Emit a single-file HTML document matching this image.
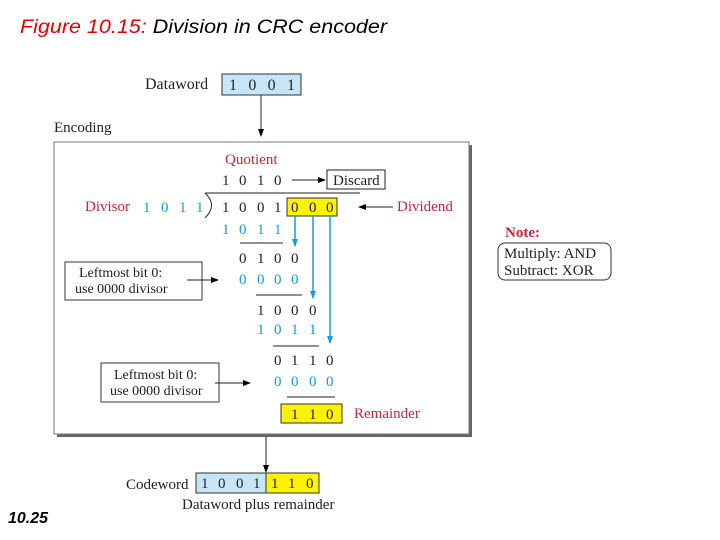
<!DOCTYPE html>
<html><head><meta charset="utf-8"><style>
html,body{margin:0;padding:0;background:#fff;width:720px;height:540px;overflow:hidden}
svg text{font-family:"Liberation Serif",serif;font-size:15px}
</style></head><body>
<svg width="720" height="540" viewBox="0 0 720 540" xmlns="http://www.w3.org/2000/svg">
<defs>
<marker id="ak" markerWidth="8" markerHeight="8" refX="7" refY="4" orient="auto" markerUnits="userSpaceOnUse"><path d="M0,1 L8,4 L0,7 Z" fill="#000"/></marker>
<marker id="ab" markerWidth="8" markerHeight="8" refX="7" refY="4" orient="auto" markerUnits="userSpaceOnUse"><path d="M0,1 L8,4 L0,7 Z" fill="#1a9ad6"/></marker>
</defs>
<text x="20" y="33" style="font-family:'Liberation Sans',sans-serif;font-size:19px;font-style:italic" textLength="367" lengthAdjust="spacingAndGlyphs"><tspan fill="#e00000">Figure 10.15:</tspan>  <tspan fill="#000">Division in CRC encoder</tspan></text>

<text x="145" y="89" fill="#222" style="font-size:16px">Dataword</text>
<rect x="222" y="74" width="79" height="21" fill="#c6e6f8" stroke="#333"/>
<text x="229" y="90" fill="#222" textLength="66" style="font-size:16px">1  0  0  1</text>
<line x1="261" y1="95" x2="261" y2="136" stroke="#222" marker-end="url(#ak)"/>
<text x="54" y="132" fill="#222">Encoding</text>

<rect x="57" y="145" width="415" height="292" fill="#666"/>
<rect x="54" y="142" width="415" height="292" fill="#fff" stroke="#777"/>

<text x="225" y="164" fill="#c0283c">Quotient</text>
<g fill="#222"><text x="222" y="185">1</text><text x="239" y="185">0</text><text x="257" y="185">1</text><text x="274" y="185">0</text></g>
<line x1="292" y1="180" x2="325" y2="180" stroke="#222" marker-end="url(#ak)"/>
<rect x="327" y="170" width="58" height="19" fill="#fff" stroke="#222"/>
<text x="333" y="185" fill="#222">Discard</text>

<line x1="205" y1="193" x2="360" y2="193" stroke="#222"/>
<path d="M205,193 Q218,205 205,218" fill="none" stroke="#222"/>
<text x="85" y="211" fill="#c0283c">Divisor</text>
<g fill="#1a9ad6"><text x="143" y="212">1</text><text x="161" y="212">0</text><text x="179" y="212">1</text><text x="196" y="212">1</text></g>
<rect x="287" y="198" width="50" height="18" fill="#fff200" stroke="#333"/>
<g fill="#222"><text x="222" y="212">1</text><text x="239" y="212">0</text><text x="257" y="212">0</text><text x="274" y="212">1</text>
<text x="291" y="212">0</text><text x="309" y="212">0</text><text x="326" y="212">0</text></g>
<line x1="393" y1="207" x2="359" y2="207" stroke="#222" marker-end="url(#ak)"/>
<text x="397" y="211" fill="#c0283c">Dividend</text>

<g fill="#1a9ad6"><text x="222" y="234">1</text><text x="239" y="234">0</text><text x="257" y="234">1</text><text x="274" y="234">1</text></g>
<line x1="240" y1="243" x2="283" y2="243" stroke="#222"/>
<g stroke="#1a9ad6" stroke-width="1.5">
<line x1="295" y1="216" x2="295" y2="246" marker-end="url(#ab)"/>
<line x1="313" y1="216" x2="313" y2="298" marker-end="url(#ab)"/>
<line x1="330" y1="216" x2="330" y2="343" marker-end="url(#ab)"/>
</g>
<g fill="#222"><text x="239" y="263">0</text><text x="257" y="263">1</text><text x="274" y="263">0</text><text x="291" y="263">0</text></g>
<g fill="#1a9ad6"><text x="239" y="284">0</text><text x="257" y="284">0</text><text x="274" y="284">0</text><text x="291" y="284">0</text></g>
<rect x="65" y="262" width="137" height="38" fill="#fff" stroke="#333"/>
<text x="79" y="277" fill="#222" style="font-size:14px">Leftmost bit 0:</text>
<text x="75" y="293" fill="#222" style="font-size:14px">use 0000 divisor</text>
<line x1="187" y1="280" x2="218" y2="280" stroke="#222" marker-end="url(#ak)"/>
<line x1="256" y1="295" x2="302" y2="295" stroke="#222"/>

<g fill="#222"><text x="257" y="315">1</text><text x="274" y="315">0</text><text x="291" y="315">0</text><text x="309" y="315">0</text></g>
<g fill="#1a9ad6"><text x="257" y="334">1</text><text x="274" y="334">0</text><text x="291" y="334">1</text><text x="309" y="334">1</text></g>
<line x1="273" y1="346" x2="319" y2="346" stroke="#222"/>

<g fill="#222"><text x="274" y="365">0</text><text x="291" y="365">1</text><text x="309" y="365">1</text><text x="326" y="365">0</text></g>
<g fill="#1a9ad6"><text x="274" y="386">0</text><text x="291" y="386">0</text><text x="309" y="386">0</text><text x="326" y="386">0</text></g>
<rect x="101" y="363" width="118" height="39" fill="#fff" stroke="#333"/>
<text x="114" y="379" fill="#222" style="font-size:14px">Leftmost bit 0:</text>
<text x="110" y="395" fill="#222" style="font-size:14px">use 0000 divisor</text>
<line x1="215" y1="383" x2="250" y2="383" stroke="#222" marker-end="url(#ak)"/>
<line x1="287" y1="397" x2="335" y2="397" stroke="#222"/>

<rect x="281" y="404" width="61" height="19" fill="#fff200" stroke="#333"/>
<g fill="#222"><text x="291" y="419">1</text><text x="309" y="419">1</text><text x="326" y="419">0</text></g>
<text x="354" y="418" fill="#c0283c">Remainder</text>

<line x1="266" y1="437" x2="266" y2="472" stroke="#222" marker-end="url(#ak)"/>
<text x="126" y="489" fill="#222">Codeword</text>
<rect x="196" y="473" width="70" height="20" fill="#c6e6f8" stroke="#333"/>
<rect x="266" y="473" width="53" height="20" fill="#fff200" stroke="#333"/>
<g fill="#222"><text x="201" y="488">1</text><text x="218" y="488">0</text><text x="236" y="488">0</text><text x="253" y="488">1</text>
<text x="271" y="488">1</text><text x="288" y="488">1</text><text x="306" y="488">0</text></g>
<text x="182" y="509" fill="#222">Dataword plus remainder</text>

<text x="505" y="237" fill="#c0283c" font-weight="bold">Note:</text>
<rect x="498" y="243" width="113" height="37" rx="7" fill="#fff" stroke="#333"/>
<text x="504" y="258" fill="#222">Multiply: AND</text>
<text x="504" y="275" fill="#222">Subtract: XOR</text>

<text x="8" y="523" style="font-family:'Liberation Sans',sans-serif;font-size:16px;font-style:italic;font-weight:bold" fill="#000">10.25</text>
</svg>
</body></html>
